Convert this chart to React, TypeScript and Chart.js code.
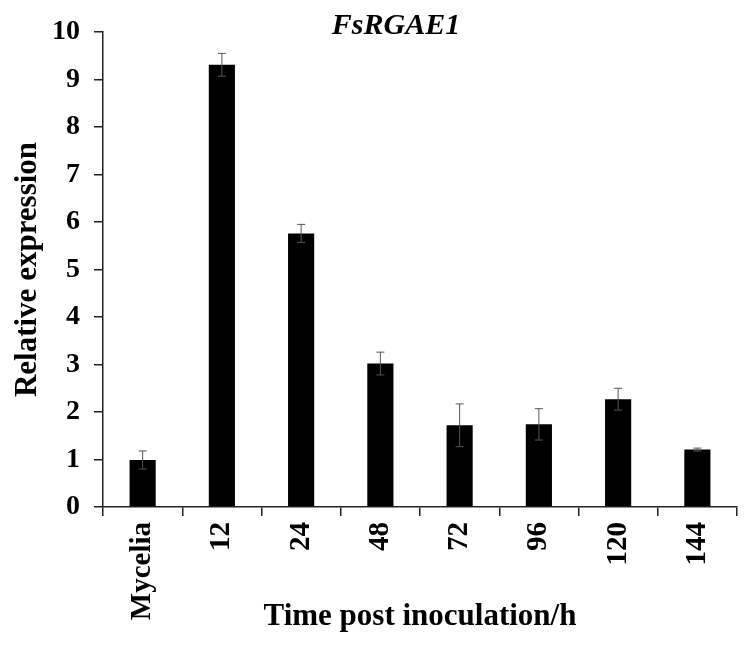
import React, { useEffect, useRef } from 'react';
import { Chart, registerables } from 'chart.js';

Chart.register(...registerables);

const categories = ['Mycelia', '12', '24', '48', '72', '96', '120', '144'];
const expression = [0.99, 9.31, 5.76, 3.02, 1.72, 1.74, 2.27, 1.21];
const errors = [0.19, 0.24, 0.19, 0.24, 0.45, 0.33, 0.23, 0.03];
const yMin = 0;
const yMax = 10;
const yStep = 1;

const serif = '"Liberation Serif", "Times New Roman", serif';

// error bars drawn from the y scale
const errorBars = {
  id: 'errorBars',
  afterDatasetsDraw(chart: any) {
    const { ctx, scales } = chart;
    const meta = chart.getDatasetMeta(0);
    ctx.save();
    ctx.strokeStyle = '#555';
    ctx.lineWidth = 1;
    meta.data.forEach((bar: any, i: number) => {
      const top = scales.y.getPixelForValue(expression[i] + errors[i]);
      const bottom = scales.y.getPixelForValue(expression[i] - errors[i]);
      const x = bar.x;
      ctx.beginPath();
      ctx.moveTo(x, top);
      ctx.lineTo(x, bottom);
      ctx.moveTo(x - 4, top);
      ctx.lineTo(x + 4, top);
      ctx.moveTo(x - 4, bottom);
      ctx.lineTo(x + 4, bottom);
      ctx.stroke();
    });
    ctx.restore();
  },
};

const geneTitle = {
  id: 'geneTitle',
  afterDraw(chart: any) {
    const { ctx } = chart;
    ctx.save();
    ctx.font = `italic bold 30px ${serif}`;
    ctx.fillStyle = '#000';
    ctx.textAlign = 'center';
    ctx.textBaseline = 'middle';
    ctx.fillText('FsRGAE1', 396, 26);
    ctx.restore();
  },
};

const App: React.FC = () => {
  const canvasRef = useRef<HTMLCanvasElement | null>(null);

  useEffect(() => {
    document.body.style.margin = '0';
    if (!canvasRef.current) return;
    const ctx = canvasRef.current.getContext('2d');
    if (!ctx) return;

    const chart = new Chart(ctx, {
      type: 'bar',
      data: {
        labels: categories,
        datasets: [
          {
            label: 'Relative expression',
            data: expression,
            backgroundColor: '#000',
            borderWidth: 0,
            barPercentage: 0.33,
            categoryPercentage: 1,
          },
        ],
      },
      options: {
        animation: false,
        responsive: true,
        maintainAspectRatio: false,
        layout: { padding: { top: 32, right: 13, left: 0, bottom: 0 } },
        plugins: {
          legend: { display: false },
          tooltip: { enabled: false },
        },
        scales: {
          x: {
            offset: true,
            afterFit: (scale: any) => {
              scale.height = 142;
            },
            grid: {
              offset: true,
              drawOnChartArea: false,
              drawTicks: true,
              tickLength: 9,
              color: '#222',
              lineWidth: 1.5,
            },
            border: { color: '#222', width: 1.5 },
            ticks: {
              color: '#000',
              minRotation: 90,
              maxRotation: 90,
              padding: 6,
              font: { family: serif, size: 29, weight: 'bold' },
            },
            title: {
              display: true,
              text: 'Time post inoculation/h',
              color: '#000',
              font: { family: serif, size: 31, weight: 'bold' },
              padding: { top: 0, bottom: 13 },
            },
          },
          y: {
            min: yMin,
            max: yMax,
            afterFit: (scale: any) => {
              scale.width = 103;
            },
            grid: {
              drawOnChartArea: false,
              drawTicks: true,
              tickLength: 9,
              color: '#222',
              lineWidth: 1.5,
            },
            border: { color: '#222', width: 1.5 },
            ticks: {
              stepSize: yStep,
              color: '#000',
              padding: 14,
              font: { family: serif, size: 28, weight: 'bold' },
            },
            title: {
              display: true,
              text: 'Relative expression',
              color: '#000',
              font: { family: serif, size: 31, weight: 'bold' },
              padding: { top: 9, bottom: 0 },
            },
          },
        },
      },
      plugins: [errorBars, geneTitle],
    });

    return () => {
      chart.destroy();
    };
  }, []);

  return (
    <div style={{ width: 750, height: 649, position: 'relative' }}>
      <canvas ref={canvasRef} />
    </div>
  );
};

export default App;
